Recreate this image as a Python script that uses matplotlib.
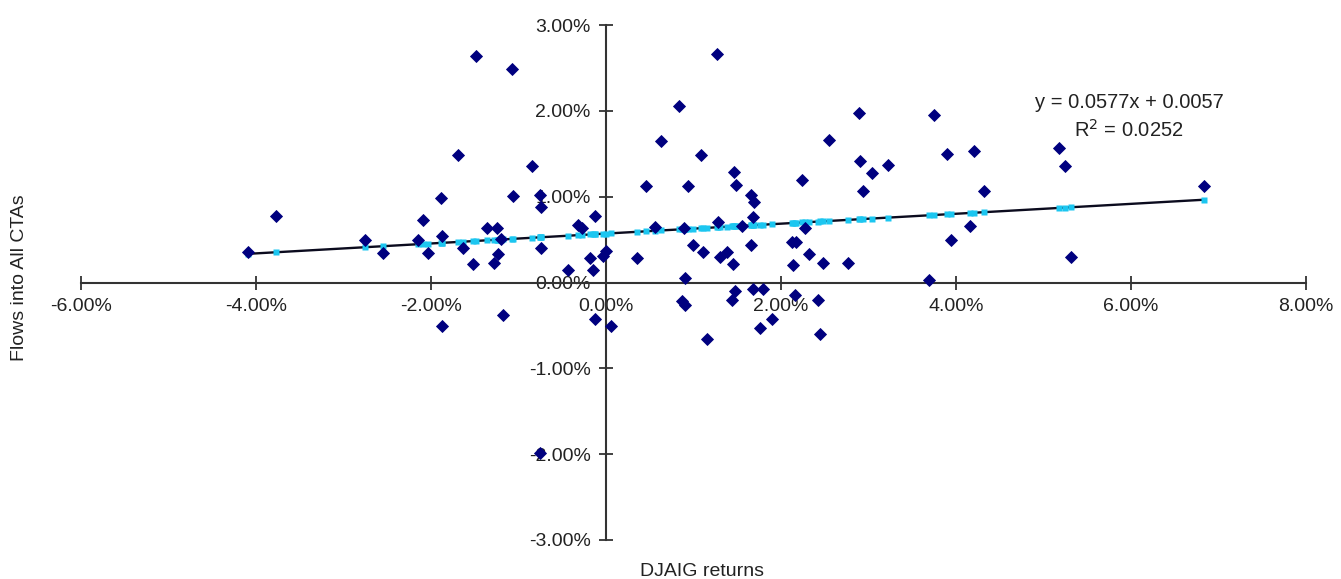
import numpy as np
import matplotlib
matplotlib.use("Agg")
import matplotlib.pyplot as plt
from matplotlib.ticker import PercentFormatter

plt.rcParams['font.family'] = ['Liberation Sans', 'DejaVu Sans']
plt.rcParams['axes.unicode_minus'] = False

# monthly DJAIG returns vs flows into all CTAs, in percent
djaig_pct = [-4.09, -3.77, -2.75, -2.55, -2.15, -2.09, -2.03, -1.89, -1.87, -1.87,
             -1.69, -1.63, -1.52, -1.49, -1.36, -1.25, -1.20, -1.23, -1.28, -1.18,
             -1.07, -1.06, -0.85, -0.75, -0.74, -0.74, -0.75, -0.43, -0.32, -0.27,
             -0.18, -0.15, -0.13, -0.13, -0.03, 0.00, 0.06, 0.35, 0.46, 0.56,
             0.63, 0.83, 0.89, 0.94, 0.99, 1.09, 1.11, 0.90, 0.87, 0.90,
             1.15, 1.27, 1.28, 1.30, 1.38, 1.45, 1.46, 1.49, 1.55, 1.66,
             1.69, 1.66, 1.68, 1.44, 1.47, 1.68, 1.79, 1.76, 1.90, 2.14,
             2.13, 2.17, 2.16, 2.24, 2.27, 2.32, 2.42, 2.45, 2.48, 2.55,
             2.77, 2.89, 2.90, 2.94, 3.04, 3.22, 3.69, 3.75, 3.90, 3.94,
             4.16, 4.21, 4.32, 5.18, 5.25, 5.31, 6.83]
flows_pct = [0.35, 0.77, 0.49, 0.34, 0.49, 0.73, 0.34, 0.98, 0.54, -0.51,
             1.49, 0.40, 0.21, 2.64, 0.64, 0.63, 0.51, 0.33, 0.23, -0.38,
             2.49, 1.01, 1.36, 1.02, 0.88, 0.40, -1.99, 0.14, 0.67, 0.64,
             0.28, 0.15, 0.77, -0.43, 0.31, 0.37, -0.51, 0.28, 1.12, 0.65,
             1.65, 2.06, 0.64, 1.13, 0.44, 1.49, 0.35, 0.05, -0.22, -0.26,
             -0.66, 2.66, 0.70, 0.30, 0.35, 0.21, 1.29, 1.14, 0.66, 1.02,
             0.94, 0.44, 0.76, -0.20, -0.10, -0.07, -0.07, -0.53, -0.43, 0.20,
             0.47, 0.47, -0.15, 1.20, 0.64, 0.33, -0.20, -0.60, 0.23, 1.66,
             0.23, 1.97, 1.42, 1.07, 1.28, 1.37, 0.03, 1.95, 1.50, 0.50,
             0.66, 1.53, 1.07, 1.57, 1.36, 0.30, 1.12]

slope = 0.0577
intercept = 0.0057
r_squared = 0.0252

x = np.array(djaig_pct) / 100
y = np.array(flows_pct) / 100
fitted = intercept + slope * x

fig = plt.figure(figsize=(13.41, 5.79), dpi=100)
ax = fig.add_axes([81 / 1341, 1 - 540 / 579, 1225 / 1341, 515 / 579])

# trend line with the predicted values as cyan squares over it
xs = np.array([x.min(), x.max()])
ax.plot(xs, intercept + slope * xs, color='#0b0b1e', lw=1.7, zorder=2)
ax.plot(x, fitted, ls='none', marker='s', ms=4.8, color='#1CC6F0', mec='none', zorder=3)
ax.plot(x, y, ls='none', marker='D', ms=5.8, color='#00007F', mec='#00007F',
        mew=0.6, zorder=4, clip_on=False)

ax.set_xlim(-0.06, 0.08)
ax.set_ylim(-0.03, 0.03)
ax.set_xticks(np.arange(-0.06, 0.081, 0.02))
ax.set_yticks(np.arange(-0.03, 0.031, 0.01))
ax.xaxis.set_major_formatter(PercentFormatter(xmax=1, decimals=2))
ax.yaxis.set_major_formatter(PercentFormatter(xmax=1, decimals=2))

for side in ['top', 'right']:
    ax.spines[side].set_visible(False)
for side in ['left', 'bottom']:
    ax.spines[side].set_position(('data', 0))
    ax.spines[side].set_color('#333333')
    ax.spines[side].set_linewidth(1.5)
ax.tick_params(direction='inout', length=10, width=1.3, color='#333333',
               labelsize=14, labelcolor='#222222', pad=6)
ax.patch.set_visible(False)

ax.text(0.0598, 0.0210, 'y = 0.0577x + 0.0057', ha='center', va='center',
        fontsize=14.5, color='#222222')
ax.text(0.0598, 0.0178, 'R$^2$ = 0.0252', ha='center', va='center',
        fontsize=14.5, color='#222222')

fig.text(20 / 1341, 1 - 278 / 579, 'Flows into All CTAs', rotation=90,
         ha='center', va='center', fontsize=14, color='#222222')
fig.text(702 / 1341, 1 - 571 / 579, 'DJAIG returns', ha='center', va='center',
         fontsize=14, color='#222222')

fig.savefig('out.png', dpi=100)
